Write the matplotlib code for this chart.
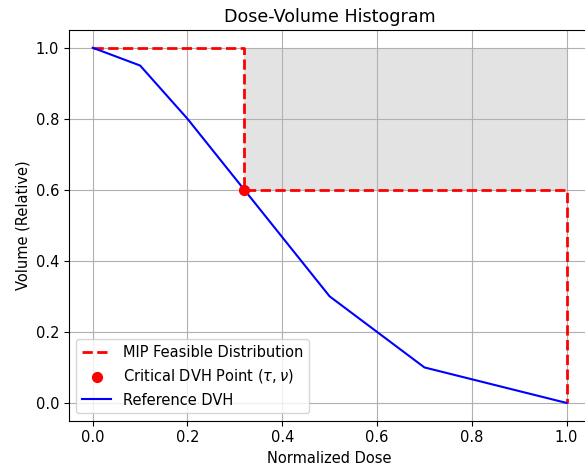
import matplotlib
matplotlib.use("Agg")
import matplotlib.pyplot as plt

# Data
ref_dose = [0.0, 0.1, 0.2, 0.5, 0.7, 1.0]
ref_volume = [1.0, 0.95, 0.8, 0.3, 0.1, 0.0]
tau = 0.32
nu = 0.6
mip_dose = [0.0, tau, tau, 1.0, 1.0]
mip_volume = [1.0, 1.0, nu, nu, 0.0]

plt.rcParams['font.size'] = 10.5

fig = plt.figure(figsize=(5.85, 4.69), dpi=100)
ax = fig.add_axes([0.118, 0.103, 0.891, 0.833])

ax.fill_between([tau, 1.0], [nu, nu], [1.0, 1.0], color='gray', alpha=0.22, linewidth=0)
ax.plot(mip_dose, mip_volume, 'r--', linewidth=2, label='MIP Feasible Distribution')
ax.scatter([tau], [nu], color='red', s=50, zorder=5, label=r'Critical DVH Point $(\tau, \nu)$')
ax.plot(ref_dose, ref_volume, 'b-', linewidth=1.5, label='Reference DVH')

ax.set_xlim(-0.05, 1.05)
ax.set_ylim(-0.05, 1.05)
ax.set_xlabel('Normalized Dose')
ax.set_ylabel('Volume (Relative)')
ax.set_title('Dose-Volume Histogram')
ax.grid(True)
ax.legend(loc='lower left')

fig.savefig('out.png', dpi=100)
